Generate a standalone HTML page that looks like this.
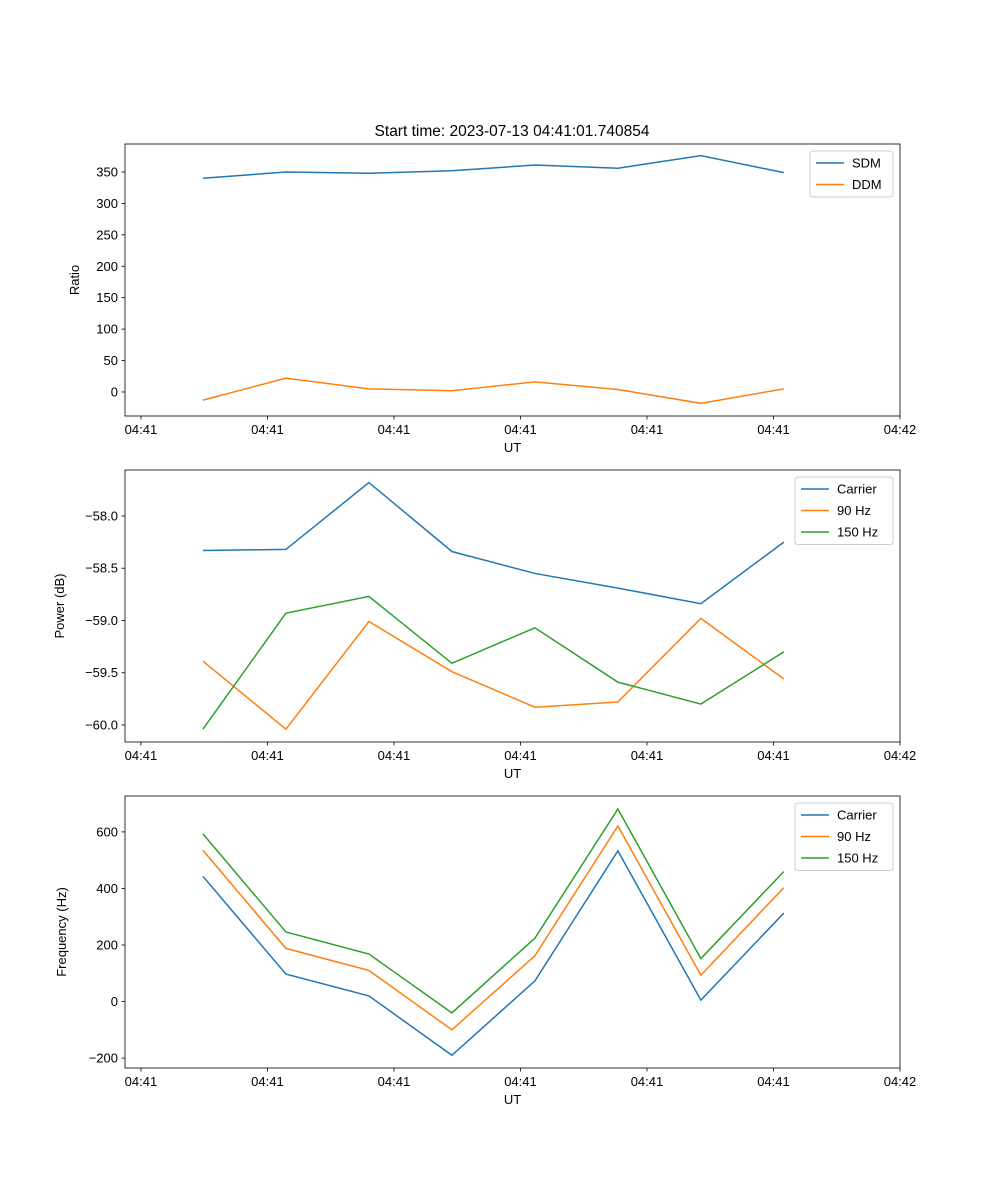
<!DOCTYPE html>
<html><head><meta charset="utf-8"><style>body{margin:0;background:#fff}svg{display:block;font-family:"Liberation Sans","DejaVu Sans",sans-serif}</style></head>
<body>
<svg id="c" width="1000" height="1200" viewBox="0 0 1000 1200"></svg>
<script>
const times=[4.9,11.46,18.02,24.58,31.14,37.7,44.26,50.82];
const xTicks=[0,10,20,30,40,50,60];
const xTickLabels=["04:41","04:41","04:41","04:41","04:41","04:41","04:42"];
const sdm=[340,350,348,352,361,356,376,349];
const ddm=[-13,22,5,2,16,4,-18,5];
const pwrCarrier=[-58.33,-58.32,-57.68,-58.34,-58.55,-58.69,-58.84,-58.25];
const pwr90=[-59.39,-60.04,-59.01,-59.49,-59.83,-59.78,-58.98,-59.56];
const pwr150=[-60.04,-58.93,-58.77,-59.41,-59.07,-59.59,-59.80,-59.30];
const frqCarrier=[443,97,20,-190,73,533,5,313];
const frq90=[535,188,110,-100,162,621,93,403];
const frq150=[593,246,168,-40,224,681,152,460];
const ratioTicks=[0,50,100,150,200,250,300,350];
const powerTicks=[-60.0,-59.5,-59.0,-58.5,-58.0];
const freqTicks=[-200,0,200,400,600];

const NS="http://www.w3.org/2000/svg",svg=document.getElementById('c');
const C=['#1f77b4','#ff7f0e','#2ca02c'];
function mk(t,a,p){const e=document.createElementNS(NS,t);for(const k in a)e.setAttribute(k,a[k]);(p||svg).appendChild(e);return e;}
const L=125,R=900,xmin=-1.26,xmax=60;
const xs=v=>L+(v-xmin)/(xmax-xmin)*(R-L);
function panel(name,top,bot,ymin,ymax,yt,ylab,fmt,series,names,legW,legX){
  const g=mk('g',{});
  
  
  const ys=v=>bot-(v-ymin)/(ymax-ymin)*(bot-top);
  xTicks.forEach((t,i)=>{const x=xs(t);
    mk('line',{x1:x,x2:x,y1:bot,y2:bot+3.5,stroke:'#000','stroke-width':0.8},g);
    const tx=mk('text',{x:x,y:bot+18,'font-size':13,'text-anchor':'middle'},g);tx.textContent=xTickLabels[i];
    
    });
  yt.forEach(t=>{const y=ys(t);
    mk('line',{x1:L-3.5,x2:L,y1:y,y2:y,stroke:'#000','stroke-width':0.8},g);
    const tx=mk('text',{x:L-7,y:y+4.5,'font-size':13,'text-anchor':'end'},g);tx.textContent=fmt(t);
    
    });
  series.forEach((s,k)=>{const p=mk('polyline',{points:s.map((v,i)=>xs(times[i])+','+ys(v)).join(' '),fill:'none',stroke:C[k],'stroke-width':1.5},g);
    
    });
  mk('rect',{x:L,y:top,width:R-L,height:bot-top,fill:'none',stroke:'#000','stroke-width':0.8},g);
  const xl=mk('text',{x:(L+R)/2,y:bot+36,'font-size':13,'text-anchor':'middle'},g);xl.textContent='UT';
  
  
  const yl=mk('text',{x:0,y:0,'font-size':13,'text-anchor':'middle',transform:`translate(${legX[1]},${(top+bot)/2}) rotate(-90)`},g);yl.textContent=ylab;
  
  
  const lg=mk('g',{},g);
  
  
  const lx=legX[0],ly=top+7;
  mk('rect',{x:lx,y:ly,width:legW,height:names.length*21.5+3,fill:'#fff',stroke:'#ccc',rx:3},lg);
  names.forEach((n,k)=>{const y=ly+12+k*21.5;
    mk('line',{x1:lx+6,x2:lx+34,y1:y,y2:y,stroke:C[k],'stroke-width':1.5},lg);
    const t=mk('text',{x:lx+42,y:y+4.5,'font-size':13},lg);t.textContent=n;
    
    });
}
const tt=mk('text',{x:512,y:136,'font-size':15.5,'text-anchor':'middle'});tt.textContent='Start time: 2023-07-13 04:41:01.740854';


panel('ratio',144,416,-38.2,394.5,ratioTicks,'Ratio',v=>String(v),[sdm,ddm],['SDM','DDM'],83,[810,79]);
panel('power',470,742,-60.163,-57.56,powerTicks,'Power (dB)',v=>'\u2212'+Math.abs(v).toFixed(1),[pwrCarrier,pwr90,pwr150],['Carrier','90 Hz','150 Hz'],98,[795,64]);
panel('frequency',796,1068,-235,727,freqTicks,'Frequency (Hz)',v=>v<0?'\u2212'+Math.abs(v):String(v),[frqCarrier,frq90,frq150],['Carrier','90 Hz','150 Hz'],98,[795,66]);
</script>
</body></html>
